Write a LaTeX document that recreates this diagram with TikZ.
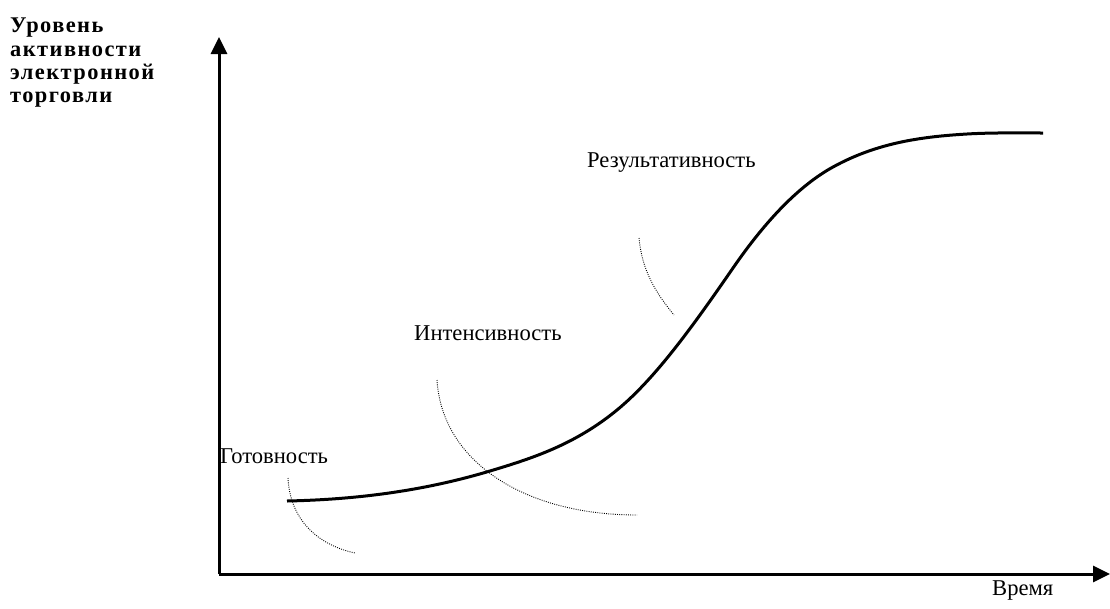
\documentclass[tikz,border=0pt]{standalone}
\usepackage{fontspec}
\setmainfont{Liberation Serif}
\usetikzlibrary{arrows.meta}
\begin{document}
\begin{tikzpicture}[x=1pt,y=-1pt,
  axis/.style={line width=3pt,-{Triangle[length=17pt,width=16pt]}},
  curve/.style={line width=3pt,line join=round},
  arc/.style={line width=0.9pt,dash pattern=on 0.9pt off 1.3pt},
  lbl/.style={font=\fontsize{22.6}{26}\selectfont,inner sep=0pt},
  ttl/.style={font=\fontsize{22.4}{23.3}\selectfont\bfseries\addfontfeature{LetterSpace=6.5},inner sep=0pt,align=left}]
\useasboundingbox (0,0) rectangle (1110,608);
\coordinate (o) at (219,574);
\coordinate (yt) at (219,37);
\coordinate (xt) at (1110,574);
\draw[axis] (o) -- (yt);
\draw[axis] (o) -- (xt);
\coordinate (p0) at (287,501);
\coordinate (p1) at (490,471);
\coordinate (p2) at (617,410);
\coordinate (p3) at (733,268);
\coordinate (p4) at (833,167);
\coordinate (p5) at (967,134);
\coordinate (p6) at (1043,133);
\draw[curve] (p0) .. controls (354.7,499.6) and (422.3,491.3) .. (p1)
  .. controls (532.3,458.3) and (574.7,444.7) .. (p2)
  .. controls (655.7,378.3) and (694.3,324.1) .. (p3)
  .. controls (766.3,219.7) and (799.7,185.3) .. (p4)
  .. controls (877.7,142.4) and (922.3,136.7) .. (p5)
  .. controls (992.3,132.5) and (1017.7,133) .. (p6);
\draw[arc] (288,478) .. controls (290,520) and (318,545) .. (355,553);
\draw[arc] (437,380) .. controls (442,462) and (525,515) .. (637,515);
\draw[arc] (639,238) .. controls (642,270) and (655,292) .. (674,315);
\node[lbl,anchor=base west] (g) at (220,463) {Готовность};
\node[lbl,anchor=base west] (i) at (414,340) {Интенсивность};
\node[lbl,anchor=base west] (r) at (587,167) {Результативность};
\node[lbl,anchor=base west] (v) at (992,595) {Время};
\node[ttl,anchor=north west] (t) at (10,18) {Уровень\\активности\\электронной\\торговли};
\end{tikzpicture}
\end{document}
